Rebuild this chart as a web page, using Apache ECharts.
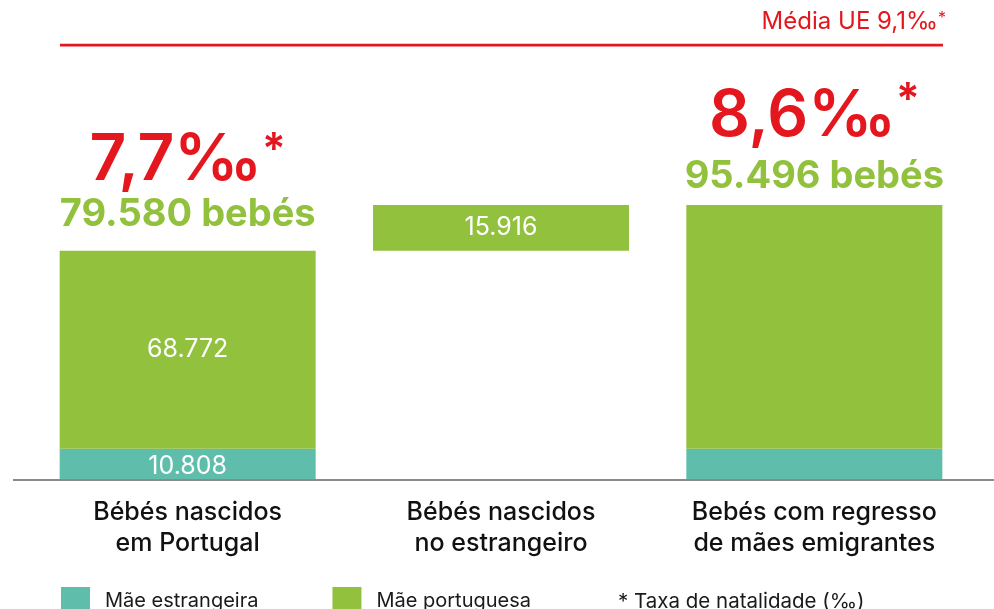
<!DOCTYPE html>
<html>
<head>
<meta charset="utf-8">
<script src="https://cdn.jsdelivr.net/npm/echarts@6/dist/echarts.min.js"></script>
<style>
  html, body { margin: 0; padding: 0; background: #fff; }
  #chart { width: 994px; height: 609px; }
</style>
</head>
<body>
<div id="chart"></div>
<script>
const categories = ['Bébés nascidos\nem Portugal', 'Bébés nascidos\nno estrangeiro', 'Bebés com regresso\nde mães emigrantes']
const foreignMother = [10808, 0, 10808]
const portugueseMother = [68772, 15916, 84688]
const birthRates = ['7,7', null, '8,6']
const euAverage = [9.1, 9.1]

const RED = '#e3171d'
const GREEN = '#92c13e'
const TEAL = '#5fbdac'
const FONT = 'Inter'

const fmt = v => String(v).replace(/\B(?=(\d{3})+(?!\d))/g, '.')

// bar 2 floats on top of the first total
const offset = [0, foreignMother[0] + portugueseMother[0], 0]
const totals = foreignMother.map((v, i) => v + portugueseMother[i])

const chart = echarts.init(document.getElementById('chart'))

chart.setOption({
	animation: false,
	textStyle: { fontFamily: FONT },
	title: [
		{
			text: '{t|Média UE 9,1‰}{s|*}',
			right: 43,
			top: 5,
			textStyle: {
				fontFamily: FONT,
				rich: {
					t: { fontFamily: FONT, fontSize: 24, fontWeight: 'normal', color: RED },
					s: { fontFamily: FONT, fontSize: 16, fontWeight: 'normal', color: RED, verticalAlign: 'top', padding: [0, 0, 8, 0] },
				},
			},
		},
		{
			text: '* Taxa de natalidade (‰)',
			left: 613,
			top: 586,
			textStyle: { fontFamily: FONT, fontSize: 20.5, fontWeight: 'normal', color: '#1a1a1a' },
		},
	],
	legend: {
		data: ['Mãe estrangeira', 'Mãe portuguesa'],
		left: 56,
		top: 582,
		itemWidth: 29,
		itemHeight: 28,
		itemGap: 74,
		icon: 'rect',
		textStyle: { fontFamily: FONT, fontSize: 20, color: '#1a1a1a', padding: [0, 0, 0, 10] },
		selectedMode: false,
	},
	grid: [
		{ left: 31, right: 23, top: 45, bottom: 129 },
		{ left: 60, right: 51, top: 45, height: 100 },
	],
	xAxis: [
		{
			type: 'category',
			data: categories,
			gridIndex: 0,
			axisLine: { show: false },
			axisTick: { show: false },
			axisLabel: { interval: 0, margin: 17, fontFamily: FONT, fontSize: 25, fontWeight: 500, lineHeight: 31, color: '#111' },
		},
		{ type: 'category', data: ['a', 'b'], gridIndex: 1, boundaryGap: false, show: false },
	],
	yAxis: [
		{ type: 'value', min: 0, max: 151000, gridIndex: 0, show: false, splitLine: { show: false } },
		{ type: 'value', min: 0, max: 9.1, gridIndex: 1, show: false, splitLine: { show: false } },
	],
	graphic: [
		{
			type: 'line',
			shape: { x1: 13, y1: 480, x2: 994, y2: 480 },
			style: { stroke: '#8a8a8a', lineWidth: 2 },
			z: 10,
		},
	],
	series: [
		{
			name: 'Mãe estrangeira',
			type: 'bar',
			stack: 'b',
			barWidth: 256,
			itemStyle: { color: TEAL },
			data: foreignMother.map((v, i) => ({
				value: v || '-',
				label: { show: i === 0 },
			})),
			label: {
				position: 'inside',
				formatter: p => fmt(p.value),
				color: '#fff',
				fontFamily: FONT,
				fontSize: 25,
				offset: [0, 2],
			},
		},
		{
			name: 'offset',
			type: 'bar',
			stack: 'b',
			barWidth: 256,
			itemStyle: { color: 'transparent' },
			data: offset,
			silent: true,
		},
		{
			name: 'Mãe portuguesa',
			type: 'bar',
			stack: 'b',
			barWidth: 256,
			itemStyle: { color: GREEN },
			data: portugueseMother.map((v, i) => ({
				value: v,
				label: { show: i !== 2 },
			})),
			label: {
				position: 'inside',
				formatter: p => fmt(p.value),
				color: '#fff',
				fontFamily: FONT,
				fontSize: 25,
			},
		},
		{
			name: 'totals',
			type: 'bar',
			stack: 'b',
			barWidth: 256,
			itemStyle: { color: 'transparent' },
			// the two headline blocks are not spaced the same in the original
			data: birthRates.map((r, i) => ({
				value: 0,
				label: { show: r !== null, distance: i === 2 ? 6 : 14 },
			})),
			label: {
				position: 'top',
				formatter: p => {
					const k = p.dataIndex === 2 ? '2' : ''
					return '{r' + k + '|' + birthRates[p.dataIndex] + '‰}{s' + k + '|*}\n{g|' + fmt(totals[p.dataIndex]) + ' bebés}'
				},
				rich: {
					r: { fontFamily: FONT, fontSize: 64, fontWeight: 600, color: RED, lineHeight: 64 },
					s: { fontFamily: FONT, fontSize: 44, fontWeight: 600, color: RED, verticalAlign: 'top', lineHeight: 64 },
					r2: { fontFamily: FONT, fontSize: 64, fontWeight: 600, color: RED, lineHeight: 76 },
					s2: { fontFamily: FONT, fontSize: 44, fontWeight: 600, color: RED, verticalAlign: 'top', lineHeight: 76 },
					g: { fontFamily: FONT, fontSize: 38, fontWeight: 'bold', color: GREEN, lineHeight: 44 },
				},
			},
		},
		{
			name: 'Média UE',
			type: 'line',
			xAxisIndex: 1,
			yAxisIndex: 1,
			data: euAverage,
			symbol: 'none',
			lineStyle: { color: RED, width: 3 },
			silent: true,
		},
	],
})
</script>
</body>
</html>
